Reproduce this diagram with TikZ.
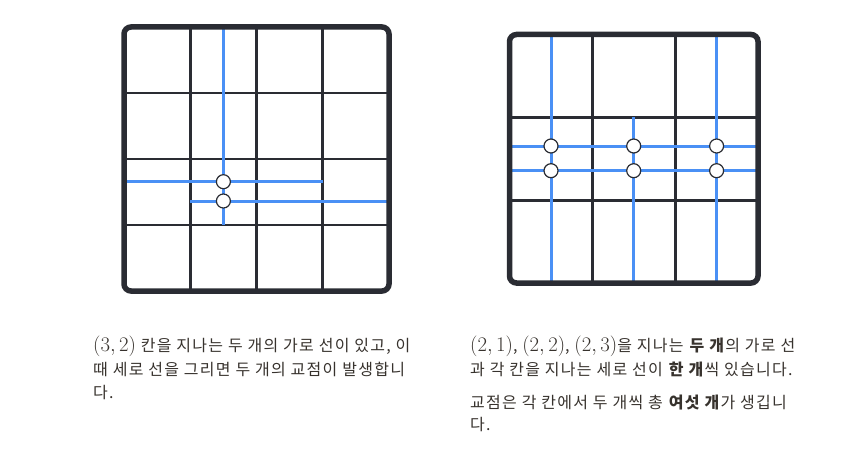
\documentclass[tikz,border=0pt]{standalone}
\usepackage{fontspec}
\usepackage{amsmath}
\usepackage{tikz}
\newfontfamily\kr{Noto Sans CJK KR}[LetterSpace=8]
\definecolor{gridgray}{RGB}{42,44,51}
\definecolor{cutblue}{RGB}{74,144,245}
\definecolor{ink}{RGB}{55,50,45}
\newcommand{\mth}[1]{{\fontsize{19.4}{24}\selectfont$#1$}}

\begin{document}
\begin{tikzpicture}[x=1pt,y=-1pt,
	grid/.style={draw=gridgray,line width=2.8pt},
	frame/.style={draw=gridgray,line width=5.5pt,rounded corners=7pt},
	cut/.style={draw=cutblue,line width=3pt},
	dot/.style={shape=circle,draw=gridgray,fill=white,line width=1.2pt,inner sep=0pt,minimum size=14pt},
	txt/.style={anchor=base west,inner sep=0pt,text=ink,font=\kr\fontsize{16}{24}\selectfont}]
	\useasboundingbox (0,0) rectangle (853,452);

	\coordinate (lnw) at (124, 27);
	\coordinate (lse) at (389, 291);
	\foreach \x in {190.25, 256.5, 322.75}
		\draw[grid] (\x, 27) -- (\x, 291);
	\foreach \y in {93, 159, 225}
		\draw[grid] (124, \y) -- (389, \y);
	\draw[cut] (223.4, 27) -- (223.4, 225);
	\draw[cut] (124, 181.7) -- (322.75, 181.7);
	\draw[cut] (190.25, 201) -- (389, 201);
	\draw[frame] (lnw) rectangle (lse);
	\node[dot] (a1) at (223.4, 181.7) {};
	\node[dot] (a2) at (223.4, 201) {};

	\coordinate (rnw) at (509.5, 34.5);
	\coordinate (rse) at (758, 283);
	\foreach \x in {592.3, 675.2}
		\draw[grid] (\x, 34.5) -- (\x, 283);
	\foreach \y in {117.3, 200.2}
		\draw[grid] (509.5, \y) -- (758, \y);
	\draw[cut] (551, 34.5) -- (551, 283);
	\draw[cut] (633.7, 117.3) -- (633.7, 283);
	\draw[cut] (716.6, 34.5) -- (716.6, 283);
	\draw[cut] (509.5, 146) -- (758, 146);
	\draw[cut] (509.5, 170.7) -- (758, 170.7);
	\draw[frame] (rnw) rectangle (rse);
	\foreach \x/\c in {551/1, 633.7/2, 716.6/3} {
		\node[dot] (b\c) at (\x, 146) {};
		\node[dot] (c\c) at (\x, 170.7) {};
	}

	\node[txt] (l1) at (93, 351.5) {\mth{(3,2)} 칸을 지나는 두 개의 가로 선이 있고, 이};
	\node[txt] (l2) at (93, 375) {때 세로 선을 그리면 두 개의 교점이 발생합니};
	\node[txt] (l3) at (93, 398.5) {다.};

	\node[txt] (r1) at (470, 351.5) {\mth{(2,1)}, \mth{(2,2)}, \mth{(2,3)}을 지나는 \textbf{두 개}의 가로 선};
	\node[txt] (r2) at (470, 375) {과 각 칸을 지나는 세로 선이 \textbf{한 개}씩 있습니다.};
	\node[txt] (r3) at (470, 408.3) {교점은 각 칸에서 두 개씩 총 \textbf{여섯 개}가 생깁니};
	\node[txt] (r4) at (470, 430) {다.};
\end{tikzpicture}
\end{document}
